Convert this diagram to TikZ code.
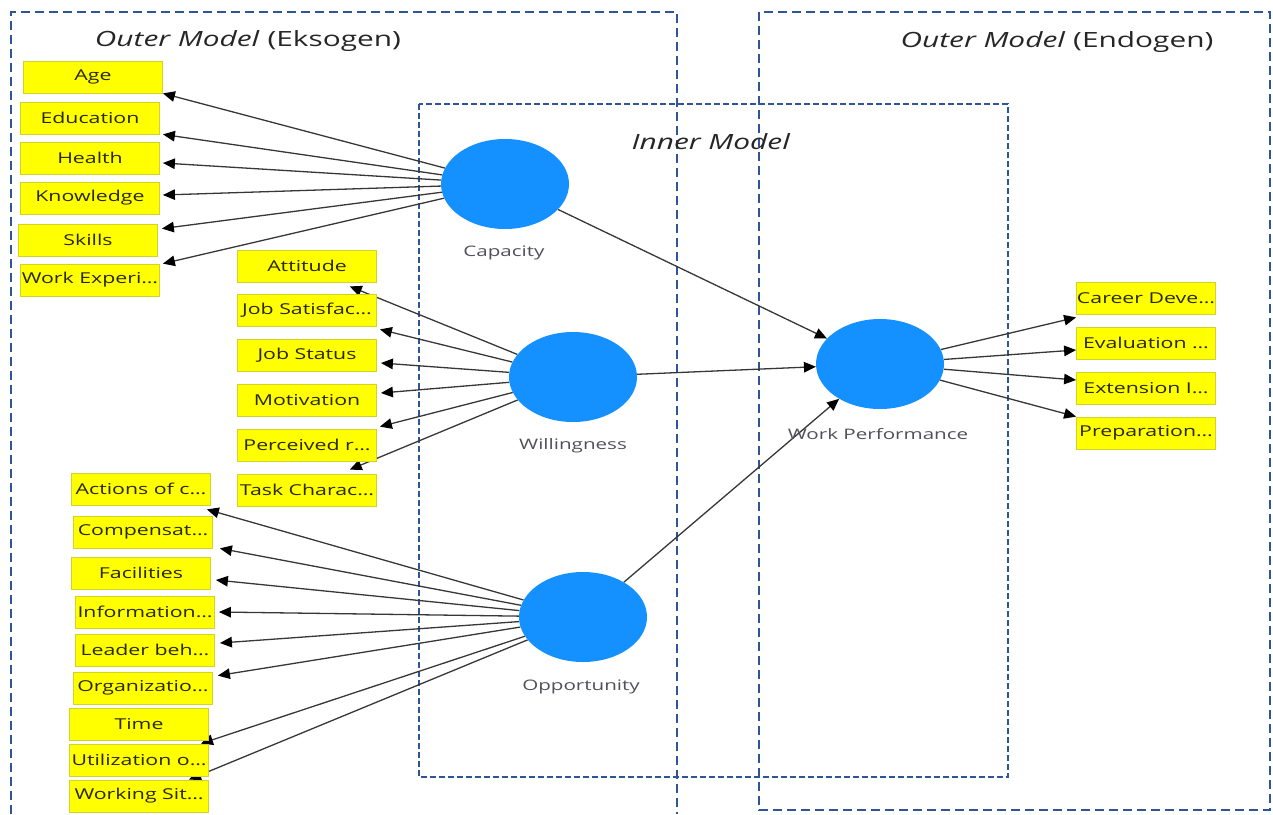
\documentclass[tikz,border=0pt]{standalone}
\usepackage{fontspec}
\setmainfont{Open Sans}[FakeStretch=1.42]
\usetikzlibrary{shapes.geometric,arrows.meta}
\pgfdeclarelayer{bg}
\pgfsetlayers{bg,main}
\definecolor{boxyellow}{RGB}{255,255,0}
\definecolor{boxedge}{RGB}{210,210,40}
\definecolor{lvblue}{RGB}{20,145,255}
\definecolor{dashblue}{RGB}{47,85,151}
\definecolor{arrowgray}{RGB}{55,55,55}
\definecolor{boxtext}{RGB}{40,40,10}
\definecolor{lbltext}{RGB}{80,80,90}
\tikzset{
 ind/.style={draw=boxedge, fill=boxyellow, line width=0.8pt, minimum width=139pt, minimum height=32pt, inner sep=0pt, text=boxtext, font=\fontsize{15}{17}\selectfont},
 lv/.style={ellipse, fill=lvblue, minimum width=128pt, minimum height=90pt, inner sep=0pt},
 lvlabel/.style={text=lbltext, font=\fontsize{14.5}{17}\selectfont},
 titletext/.style={text=black!85, font=\fontsize{21}{25}\selectfont},
 outerbox/.style={draw=dashblue, line width=1.5pt, dash pattern=on 9pt off 5pt},
 innerbox/.style={draw=dashblue, line width=1.2pt, dash pattern=on 6pt off 3pt},
 conn/.style={draw=arrowgray, line width=1.3pt, -{Triangle[length=12pt,width=10.5pt,color=black]}},
}
\begin{document}
\begin{tikzpicture}[x=1pt,y=-1pt]
\useasboundingbox (0,0) rectangle (1273,814);
% titles
\node[titletext] (tEks) at (248,41) {\textit{Outer Model} (Eksogen)};
\node[titletext] (tEnd) at (1057,42) {\textit{Outer Model} (Endogen)};
\node[titletext] (tInn) at (711,142) {\textit{Inner Model}};
% latent variables
\node[lv] (cap) at (505,184) {};
\node[lv] (wil) at (573,377) {};
\node[lv] (opp) at (583,617) {};
\node[lv] (wp) at (880,364) {};
\node[lvlabel] (capl) at (504,253) {Capacity};
\node[lvlabel] (will) at (573,446) {Willingness};
\node[lvlabel] (oppl) at (581,687) {Opportunity};
\node[lvlabel] (wpl) at (878,434) {Work Performance};
% capacity indicators
\node[ind] (age) at (93,77) {Age};
\node[ind] (edu) at (90,118) {Education};
\node[ind] (hea) at (90,158) {Health};
\node[ind] (kno) at (90,198) {Knowledge};
\node[ind] (ski) at (88,240) {Skills};
\node[ind] (wex) at (90,280) {Work Experi…};
% willingness indicators
\node[ind] (att) at (307,266) {Attitude};
\node[ind] (jsa) at (307,310) {Job Satisfac…};
\node[ind] (jst) at (307,355) {Job Status};
\node[ind] (mot) at (307,400) {Motivation};
\node[ind] (per) at (307,445) {Perceived r…};
\node[ind] (tas) at (307,490) {Task Charac…};
% opportunity indicators
\node[ind] (act) at (141,489) {Actions of c…};
\node[ind] (com) at (143,532) {Compensat…};
\node[ind] (fac) at (141,573) {Facilities};
\node[ind] (inf) at (145,612) {Information…};
\node[ind] (lea) at (145,650) {Leader beh…};
\node[ind] (org) at (143,688) {Organizatio…};
\node[ind] (tim) at (139,724) {Time};
\node[ind] (uti) at (139,760) {Utilization o…};
\node[ind] (wsi) at (139,796) {Working Sit…};
% work performance indicators
\node[ind] (car) at (1146,298) {Career Deve…};
\node[ind] (eva) at (1146,343) {Evaluation …};
\node[ind] (ext) at (1146,388) {Extension I…};
\node[ind] (pre) at (1146,433) {Preparation…};
\begin{pgfonlayer}{bg}
 % frames
 \draw[outerbox] (11,814) -- (11,12) -- (677,12) -- (677,814);
 \draw[outerbox] (759,12) rectangle (1270,810);
 \draw[innerbox] (419,104) rectangle (1008,777);
 % capacity
 \draw[conn] (cap) -- (age.south east);
 \draw[conn] (cap) -- ([xshift=3pt]edu.south east);
 \draw[conn] (cap) -- ([xshift=3pt,yshift=-5pt]hea.east);
 \draw[conn] (cap) -- ([xshift=3pt,yshift=3pt]kno.east);
 \draw[conn] (cap) -- ([xshift=4pt,yshift=-5pt]ski.north east);
 \draw[conn] (cap) -- ([xshift=3pt]wex.north east);
 % willingness
 \draw[conn] (wil) -- ([yshift=-4pt]att.-21);
 \draw[conn] (wil) -- ([xshift=3pt,yshift=-3pt]jsa.south east);
 \draw[conn] (wil) -- ([xshift=4pt,yshift=-8pt]jst.east);
 \draw[conn] (wil) -- ([xshift=4pt,yshift=7pt]mot.east);
 \draw[conn] (wil) -- ([xshift=3pt,yshift=2pt]per.north east);
 \draw[conn] (wil) -- ([yshift=4pt]tas.21);
 % opportunity
 \draw[conn] (opp) -- ([yshift=-4pt]act.-14);
 \draw[conn] (opp) -- ([xshift=7pt]com.south east);
 \draw[conn] (opp) -- ([xshift=5pt,yshift=-7pt]fac.east);
 \draw[conn] (opp) -- ([xshift=4pt]inf.east);
 \draw[conn] (opp) -- ([xshift=5pt,yshift=7pt]lea.east);
 \draw[conn] (opp) -- ([xshift=5pt,yshift=-4pt]org.north east);
 \draw[conn] (opp) -- ([xshift=-8pt]uti.north east);
 \draw[conn] (opp) -- ([xshift=-20pt]wsi.north east);
 % structural
 \draw[conn] (cap) -- (wp);
 \draw[conn] (wil) -- (wp);
 \draw[conn] (opp) -- (wp);
 % work performance
 \draw[conn] (wp) -- ([yshift=-3pt]car.south west);
 \draw[conn] (wp) -- ([yshift=-7pt]eva.west);
 \draw[conn] (wp) -- ([yshift=8pt]ext.west);
 \draw[conn] (wp) -- (pre.north west);
\end{pgfonlayer}
\end{tikzpicture}
\end{document}
